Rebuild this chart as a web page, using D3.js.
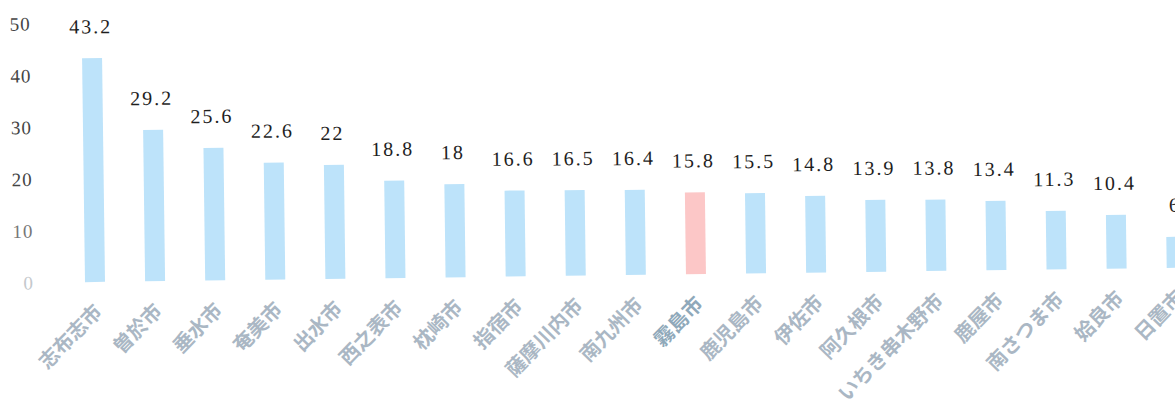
<!DOCTYPE html>
<html><head><meta charset="utf-8">
<script src="https://cdn.jsdelivr.net/npm/d3@7/dist/d3.min.js"></script>
<style>
html,body{margin:0;padding:0;background:#fff;}
svg{display:block;}
</style></head>
<body>
<svg id="chart" width="1175" height="401"></svg>
<script>
const categories = ["志布志市","曽於市","垂水市","奄美市","出水市","西之表市","枕崎市","指宿市","薩摩川内市","南九州市","霧島市","鹿児島市","伊佐市","阿久根市","いちき串木野市","鹿屋市","南さつま市","姶良市","日置市"];
const values = [43.2,29.2,25.6,22.6,22,18.8,18,16.6,16.5,16.4,15.8,15.5,14.8,13.9,13.8,13.4,11.3,10.4,6];
const highlight = ["霧島市"];
const yTicks = [0,10,20,30,40,50];

const svg = d3.select("#chart");
const g = svg.append("g").attr("transform","rotate(-0.75,95,282)");

const x = d3.scalePoint().domain(categories).range([95, 1176.8]);
const y = d3.scaleLinear().domain([0,50]).range([282, 23]);
const barW = 20;

// y axis labels
const tickColor = v => v===0 ? "#c4c8cc" : (v===10 ? "#777" : "#444");
g.append("g").selectAll("text").data(yTicks).join("text")
  .attr("x", 34).attr("y", d => y(d)).attr("dy","0.35em")
  .attr("text-anchor","end")
  .style("font-family","'Liberation Serif','DejaVu Serif',serif")
  .style("font-size","19px")
  .style("letter-spacing","1px")
  .style("fill", tickColor)
  .text(d => d);

// bars
g.append("g").selectAll("rect").data(categories).join("rect")
  .attr("x", d => x(d) - barW/2)
  .attr("width", barW)
  .attr("y", (d,i) => y(values[i]))
  .attr("height", (d,i) => y(0) - y(values[i]))
  .attr("fill", d => highlight.includes(d) ? "#fcc7c7" : "#bde3fa");

// value labels
g.append("g").selectAll("text").data(categories).join("text")
  .attr("x", d => x(d) - 1)
  .attr("y", (d,i) => y(values[i]) - 25)
  .attr("text-anchor","middle")
  .style("font-family","'Liberation Serif','DejaVu Serif',serif")
  .style("font-size","20px")
  .style("letter-spacing","2px")
  .style("fill","#1e1e1e")
  .text((d,i) => values[i]);

// category labels
g.append("g").selectAll("text").data(categories).join("text")
  .attr("transform", d => `translate(${x(d)+8},${y(0)+31}) rotate(-45)`)
  .attr("text-anchor","end")
  .style("font-family","'Noto Sans CJK JP','Noto Sans',sans-serif")
  .style("font-size","20px")
  .style("font-weight","700")
  .style("fill", d => highlight.includes(d) ? "#8fa9ba" : "#aab7c4")
  .text(d => d);
</script>
</body></html>
